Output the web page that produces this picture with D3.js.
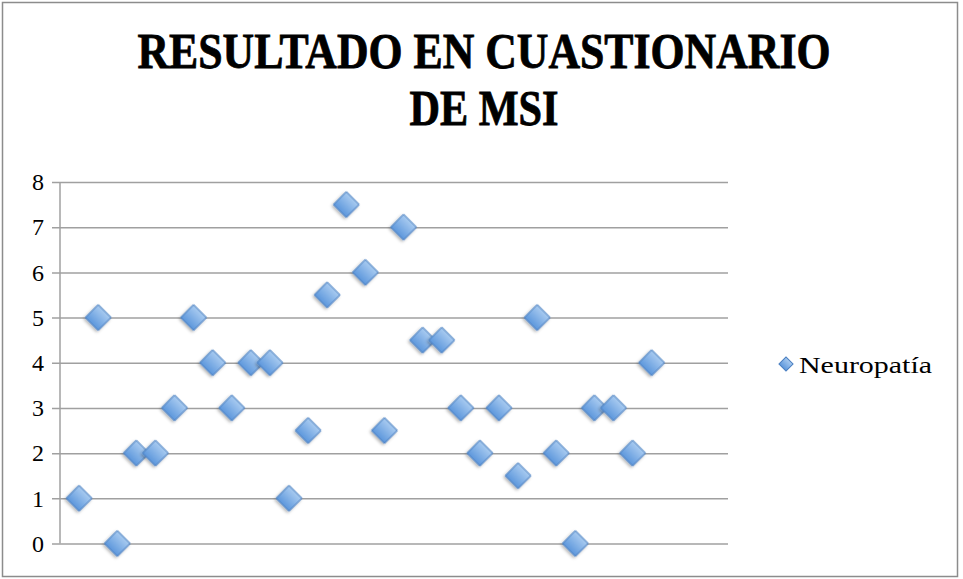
<!DOCTYPE html>
<html>
<head>
<meta charset="utf-8">
<script src="https://cdn.jsdelivr.net/npm/d3@7"></script>
<style>
  body { margin: 0; background: #fff; }
  svg { display: block; }
</style>
</head>
<body>
<svg></svg>
<script>
// data
var caseNumbers = [1, 2, 3, 4, 5, 6, 7, 8, 9, 10, 11, 12, 13, 14, 15, 16,
  17, 18, 19, 20, 21, 22, 23, 24, 25, 26, 27, 28, 29, 30, 31];
var msiScores = [1, 5, 0, 2, 2, 3, 5, 4, 3, 4, 4, 1, 2.5, 5.5, 7.5, 6,
  2.5, 7, 4.5, 4.5, 3, 2, 3, 1.5, 5, 2, 0, 3, 3, 2, 4];
var yTicks = [0, 1, 2, 3, 4, 5, 6, 7, 8];
var seriesName = 'Neuropatía';
var titleLines = ['RESULTADO EN CUASTIONARIO', 'DE MSI'];

var width = 963;
var height = 579;
var serif = '"Liberation Serif", "DejaVu Serif", serif';

var svg = d3.select('svg').attr('width', width).attr('height', height);

var data = caseNumbers.map((c, i) => ({ x: c, y: msiScores[i] }));

var xScale = d3.scaleLinear().domain([0, 35]).range([60, 728]);
var yScale = d3.scaleLinear().domain([0, 8]).range([543.5, 182]);

// outer frame
svg.append('rect')
  .attr('x', 2.5).attr('y', 2.5)
  .attr('width', 955).attr('height', 574)
  .attr('fill', '#fff')
  .attr('stroke', '#8c8c8c')
  .attr('stroke-width', 1.5);

var defs = svg.append('defs');
var grad = defs.append('linearGradient')
  .attr('id', 'blueGrad')
  .attr('x1', 0).attr('y1', 0).attr('x2', 0).attr('y2', 1);
grad.append('stop').attr('offset', '0%').attr('stop-color', '#a9cbf0');
grad.append('stop').attr('offset', '100%').attr('stop-color', '#5d97dc');
var shadow = defs.append('filter').attr('id', 'shadow')
  .attr('x', '-50%').attr('y', '-50%').attr('width', '200%').attr('height', '200%');
shadow.append('feDropShadow')
  .attr('dx', 0).attr('dy', 2).attr('stdDeviation', 1.5)
  .attr('flood-color', '#000').attr('flood-opacity', 0.3);

// gridlines + y axis
var yAxis = d3.axisLeft(yScale)
  .tickValues(yTicks)
  .tickSize(-(728 - 60))
  .tickSizeOuter(0)
  .tickPadding(16);
var gy = svg.append('g')
  .attr('transform', 'translate(60,0)')
  .call(yAxis);
gy.select('.domain').remove();
gy.selectAll('.tick line')
  .attr('x1', -8)
  .attr('stroke', '#a0a0a0')
  .attr('stroke-width', 1.5);
gy.selectAll('.tick text')
  .attr('font-family', serif)
  .attr('font-size', 24)
  .attr('fill', '#000');

svg.append('line')
  .attr('x1', 60).attr('x2', 60)
  .attr('y1', yScale(8)).attr('y2', yScale(0))
  .attr('stroke', '#a0a0a0')
  .attr('stroke-width', 1.5);

// diamonds
var diamond = d3.symbol().type(d3.symbolSquare).size(330);
svg.append('g')
  .selectAll('path')
  .data(data)
  .enter()
  .append('path')
  .attr('d', diamond)
  .attr('transform', (d) => 'translate(' + xScale(d.x) + ',' + yScale(d.y) + ') rotate(45)')
  .attr('fill', 'url(#blueGrad)')
  .attr('stroke', '#4a7fc1')
  .attr('stroke-width', 1)
  .attr('filter', 'url(#shadow)');

// legend
svg.append('path')
  .attr('d', d3.symbol().type(d3.symbolSquare).size(100))
  .attr('transform', 'translate(786,364) rotate(45)')
  .attr('fill', 'url(#blueGrad)')
  .attr('stroke', '#4a7fc1');
svg.append('text')
  .attr('x', 799)
  .attr('y', 373)
  .attr('font-family', serif)
  .attr('font-size', 24)
  .attr('textLength', 133)
  .attr('lengthAdjust', 'spacingAndGlyphs')
  .text(seriesName);

// title
svg.selectAll('.title')
  .data(titleLines)
  .enter()
  .append('text')
  .attr('class', 'title')
  .attr('x', 484)
  .attr('y', (d, i) => 68 + i * 57)
  .attr('text-anchor', 'middle')
  .attr('font-family', serif)
  .attr('font-weight', 'bold')
  .attr('font-size', 50)
  .attr('stroke', '#000')
  .attr('stroke-width', 0.8)
  .attr('textLength', (d, i) => (i === 0 ? 693 : 149))
  .attr('lengthAdjust', 'spacingAndGlyphs')
  .text((d) => d);
</script>
</body>
</html>
